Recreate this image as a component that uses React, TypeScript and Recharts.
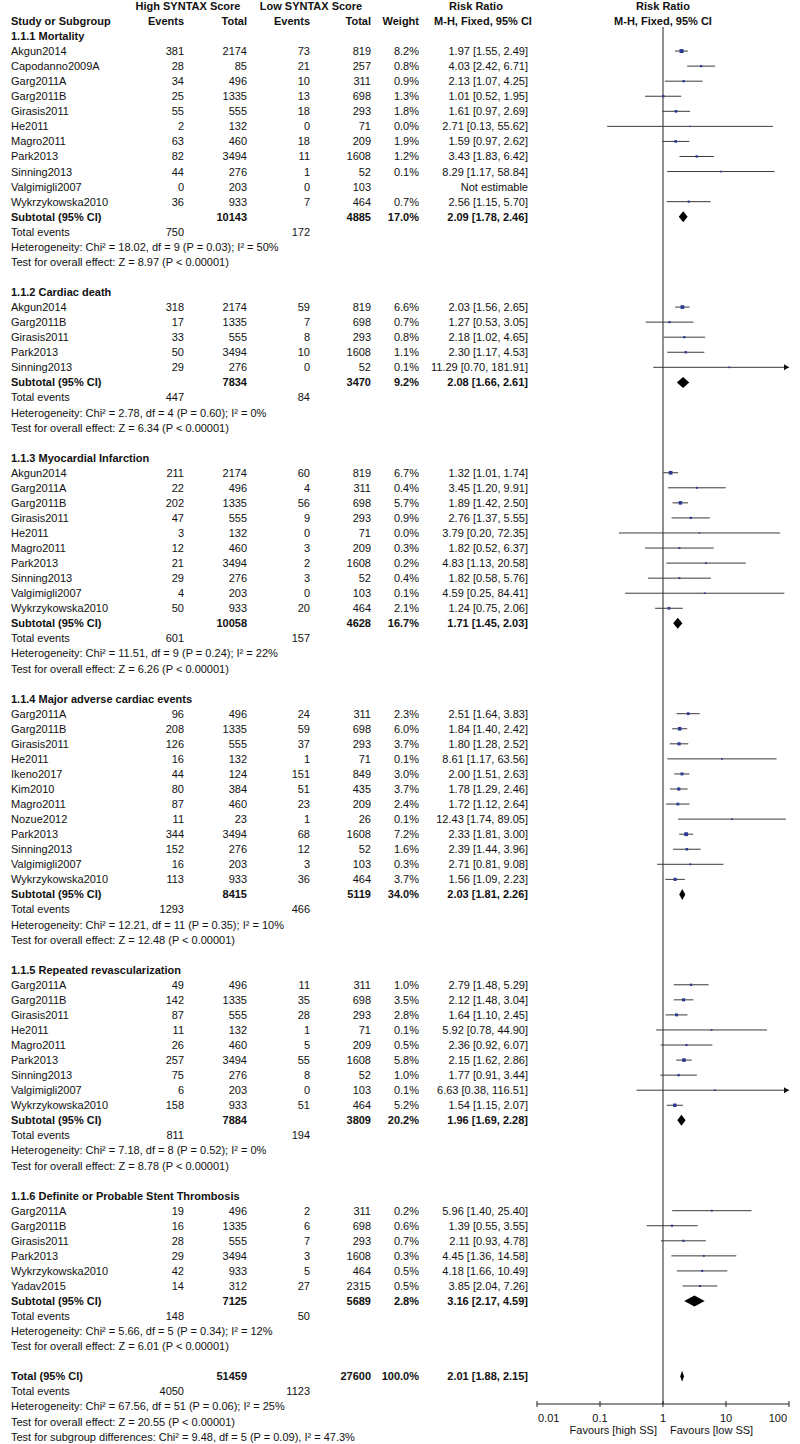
import { ScatterChart, Scatter, XAxis, YAxis, ReferenceLine } from 'recharts'

// one row per study: events / totals in each arm, weight (%), risk ratio with 95% CI
type Study = {
  study: string
  hiEv: number
  hiTot: number
  loEv: number
  loTot: number
  weight: number | null
  rr: number | null
  lo: number | null
  hi: number | null
}

type Subtotal = {
  hiEv: number
  hiTot: number
  loEv: number
  loTot: number
  weight: number
  rr: number
  lo: number
  hi: number
}

const mortality: Study[] = [
  { study: 'Akgun2014', hiEv: 381, hiTot: 2174, loEv: 73, loTot: 819, weight: 8.2, rr: 1.97, lo: 1.55, hi: 2.49 },
  { study: 'Capodanno2009A', hiEv: 28, hiTot: 85, loEv: 21, loTot: 257, weight: 0.8, rr: 4.03, lo: 2.42, hi: 6.71 },
  { study: 'Garg2011A', hiEv: 34, hiTot: 496, loEv: 10, loTot: 311, weight: 0.9, rr: 2.13, lo: 1.07, hi: 4.25 },
  { study: 'Garg2011B', hiEv: 25, hiTot: 1335, loEv: 13, loTot: 698, weight: 1.3, rr: 1.01, lo: 0.52, hi: 1.95 },
  { study: 'Girasis2011', hiEv: 55, hiTot: 555, loEv: 18, loTot: 293, weight: 1.8, rr: 1.61, lo: 0.97, hi: 2.69 },
  { study: 'He2011', hiEv: 2, hiTot: 132, loEv: 0, loTot: 71, weight: 0.0, rr: 2.71, lo: 0.13, hi: 55.62 },
  { study: 'Magro2011', hiEv: 63, hiTot: 460, loEv: 18, loTot: 209, weight: 1.9, rr: 1.59, lo: 0.97, hi: 2.62 },
  { study: 'Park2013', hiEv: 82, hiTot: 3494, loEv: 11, loTot: 1608, weight: 1.2, rr: 3.43, lo: 1.83, hi: 6.42 },
  { study: 'Sinning2013', hiEv: 44, hiTot: 276, loEv: 1, loTot: 52, weight: 0.1, rr: 8.29, lo: 1.17, hi: 58.84 },
  { study: 'Valgimigli2007', hiEv: 0, hiTot: 203, loEv: 0, loTot: 103, weight: null, rr: null, lo: null, hi: null },
  { study: 'Wykrzykowska2010', hiEv: 36, hiTot: 933, loEv: 7, loTot: 464, weight: 0.7, rr: 2.56, lo: 1.15, hi: 5.7 },
]

const cardiacDeath: Study[] = [
  { study: 'Akgun2014', hiEv: 318, hiTot: 2174, loEv: 59, loTot: 819, weight: 6.6, rr: 2.03, lo: 1.56, hi: 2.65 },
  { study: 'Garg2011B', hiEv: 17, hiTot: 1335, loEv: 7, loTot: 698, weight: 0.7, rr: 1.27, lo: 0.53, hi: 3.05 },
  { study: 'Girasis2011', hiEv: 33, hiTot: 555, loEv: 8, loTot: 293, weight: 0.8, rr: 2.18, lo: 1.02, hi: 4.65 },
  { study: 'Park2013', hiEv: 50, hiTot: 3494, loEv: 10, loTot: 1608, weight: 1.1, rr: 2.3, lo: 1.17, hi: 4.53 },
  { study: 'Sinning2013', hiEv: 29, hiTot: 276, loEv: 0, loTot: 52, weight: 0.1, rr: 11.29, lo: 0.7, hi: 181.91 },
]

const infarction: Study[] = [
  { study: 'Akgun2014', hiEv: 211, hiTot: 2174, loEv: 60, loTot: 819, weight: 6.7, rr: 1.32, lo: 1.01, hi: 1.74 },
  { study: 'Garg2011A', hiEv: 22, hiTot: 496, loEv: 4, loTot: 311, weight: 0.4, rr: 3.45, lo: 1.2, hi: 9.91 },
  { study: 'Garg2011B', hiEv: 202, hiTot: 1335, loEv: 56, loTot: 698, weight: 5.7, rr: 1.89, lo: 1.42, hi: 2.5 },
  { study: 'Girasis2011', hiEv: 47, hiTot: 555, loEv: 9, loTot: 293, weight: 0.9, rr: 2.76, lo: 1.37, hi: 5.55 },
  { study: 'He2011', hiEv: 3, hiTot: 132, loEv: 0, loTot: 71, weight: 0.0, rr: 3.79, lo: 0.2, hi: 72.35 },
  { study: 'Magro2011', hiEv: 12, hiTot: 460, loEv: 3, loTot: 209, weight: 0.3, rr: 1.82, lo: 0.52, hi: 6.37 },
  { study: 'Park2013', hiEv: 21, hiTot: 3494, loEv: 2, loTot: 1608, weight: 0.2, rr: 4.83, lo: 1.13, hi: 20.58 },
  { study: 'Sinning2013', hiEv: 29, hiTot: 276, loEv: 3, loTot: 52, weight: 0.4, rr: 1.82, lo: 0.58, hi: 5.76 },
  { study: 'Valgimigli2007', hiEv: 4, hiTot: 203, loEv: 0, loTot: 103, weight: 0.1, rr: 4.59, lo: 0.25, hi: 84.41 },
  { study: 'Wykrzykowska2010', hiEv: 50, hiTot: 933, loEv: 20, loTot: 464, weight: 2.1, rr: 1.24, lo: 0.75, hi: 2.06 },
]

const mace: Study[] = [
  { study: 'Garg2011A', hiEv: 96, hiTot: 496, loEv: 24, loTot: 311, weight: 2.3, rr: 2.51, lo: 1.64, hi: 3.83 },
  { study: 'Garg2011B', hiEv: 208, hiTot: 1335, loEv: 59, loTot: 698, weight: 6.0, rr: 1.84, lo: 1.4, hi: 2.42 },
  { study: 'Girasis2011', hiEv: 126, hiTot: 555, loEv: 37, loTot: 293, weight: 3.7, rr: 1.8, lo: 1.28, hi: 2.52 },
  { study: 'He2011', hiEv: 16, hiTot: 132, loEv: 1, loTot: 71, weight: 0.1, rr: 8.61, lo: 1.17, hi: 63.56 },
  { study: 'Ikeno2017', hiEv: 44, hiTot: 124, loEv: 151, loTot: 849, weight: 3.0, rr: 2.0, lo: 1.51, hi: 2.63 },
  { study: 'Kim2010', hiEv: 80, hiTot: 384, loEv: 51, loTot: 435, weight: 3.7, rr: 1.78, lo: 1.29, hi: 2.46 },
  { study: 'Magro2011', hiEv: 87, hiTot: 460, loEv: 23, loTot: 209, weight: 2.4, rr: 1.72, lo: 1.12, hi: 2.64 },
  { study: 'Nozue2012', hiEv: 11, hiTot: 23, loEv: 1, loTot: 26, weight: 0.1, rr: 12.43, lo: 1.74, hi: 89.05 },
  { study: 'Park2013', hiEv: 344, hiTot: 3494, loEv: 68, loTot: 1608, weight: 7.2, rr: 2.33, lo: 1.81, hi: 3.0 },
  { study: 'Sinning2013', hiEv: 152, hiTot: 276, loEv: 12, loTot: 52, weight: 1.6, rr: 2.39, lo: 1.44, hi: 3.96 },
  { study: 'Valgimigli2007', hiEv: 16, hiTot: 203, loEv: 3, loTot: 103, weight: 0.3, rr: 2.71, lo: 0.81, hi: 9.08 },
  { study: 'Wykrzykowska2010', hiEv: 113, hiTot: 933, loEv: 36, loTot: 464, weight: 3.7, rr: 1.56, lo: 1.09, hi: 2.23 },
]

const revasc: Study[] = [
  { study: 'Garg2011A', hiEv: 49, hiTot: 496, loEv: 11, loTot: 311, weight: 1.0, rr: 2.79, lo: 1.48, hi: 5.29 },
  { study: 'Garg2011B', hiEv: 142, hiTot: 1335, loEv: 35, loTot: 698, weight: 3.5, rr: 2.12, lo: 1.48, hi: 3.04 },
  { study: 'Girasis2011', hiEv: 87, hiTot: 555, loEv: 28, loTot: 293, weight: 2.8, rr: 1.64, lo: 1.1, hi: 2.45 },
  { study: 'He2011', hiEv: 11, hiTot: 132, loEv: 1, loTot: 71, weight: 0.1, rr: 5.92, lo: 0.78, hi: 44.9 },
  { study: 'Magro2011', hiEv: 26, hiTot: 460, loEv: 5, loTot: 209, weight: 0.5, rr: 2.36, lo: 0.92, hi: 6.07 },
  { study: 'Park2013', hiEv: 257, hiTot: 3494, loEv: 55, loTot: 1608, weight: 5.8, rr: 2.15, lo: 1.62, hi: 2.86 },
  { study: 'Sinning2013', hiEv: 75, hiTot: 276, loEv: 8, loTot: 52, weight: 1.0, rr: 1.77, lo: 0.91, hi: 3.44 },
  { study: 'Valgimigli2007', hiEv: 6, hiTot: 203, loEv: 0, loTot: 103, weight: 0.1, rr: 6.63, lo: 0.38, hi: 116.51 },
  { study: 'Wykrzykowska2010', hiEv: 158, hiTot: 933, loEv: 51, loTot: 464, weight: 5.2, rr: 1.54, lo: 1.15, hi: 2.07 },
]

const thrombosis: Study[] = [
  { study: 'Garg2011A', hiEv: 19, hiTot: 496, loEv: 2, loTot: 311, weight: 0.2, rr: 5.96, lo: 1.4, hi: 25.4 },
  { study: 'Garg2011B', hiEv: 16, hiTot: 1335, loEv: 6, loTot: 698, weight: 0.6, rr: 1.39, lo: 0.55, hi: 3.55 },
  { study: 'Girasis2011', hiEv: 28, hiTot: 555, loEv: 7, loTot: 293, weight: 0.7, rr: 2.11, lo: 0.93, hi: 4.78 },
  { study: 'Park2013', hiEv: 29, hiTot: 3494, loEv: 3, loTot: 1608, weight: 0.3, rr: 4.45, lo: 1.36, hi: 14.58 },
  { study: 'Wykrzykowska2010', hiEv: 42, hiTot: 933, loEv: 5, loTot: 464, weight: 0.5, rr: 4.18, lo: 1.66, hi: 10.49 },
  { study: 'Yadav2015', hiEv: 14, hiTot: 312, loEv: 27, loTot: 2315, weight: 0.5, rr: 3.85, lo: 2.04, hi: 7.26 },
]

const groupTitles = [
  '1.1.1 Mortality',
  '1.1.2 Cardiac death',
  '1.1.3 Myocardial Infarction',
  '1.1.4 Major adverse cardiac events',
  '1.1.5 Repeated revascularization',
  '1.1.6 Definite or Probable Stent Thrombosis',
]
const groupStudies = [mortality, cardiacDeath, infarction, mace, revasc, thrombosis]

const subtotals: Subtotal[] = [
  { hiEv: 750, hiTot: 10143, loEv: 172, loTot: 4885, weight: 17.0, rr: 2.09, lo: 1.78, hi: 2.46 },
  { hiEv: 447, hiTot: 7834, loEv: 84, loTot: 3470, weight: 9.2, rr: 2.08, lo: 1.66, hi: 2.61 },
  { hiEv: 601, hiTot: 10058, loEv: 157, loTot: 4628, weight: 16.7, rr: 1.71, lo: 1.45, hi: 2.03 },
  { hiEv: 1293, hiTot: 8415, loEv: 466, loTot: 5119, weight: 34.0, rr: 2.03, lo: 1.81, hi: 2.26 },
  { hiEv: 811, hiTot: 7884, loEv: 194, loTot: 3809, weight: 20.2, rr: 1.96, lo: 1.69, hi: 2.28 },
  { hiEv: 148, hiTot: 7125, loEv: 50, loTot: 5689, weight: 2.8, rr: 3.16, lo: 2.17, hi: 4.59 },
]

const heterogeneity = [
  'Heterogeneity: Chi² = 18.02, df = 9 (P = 0.03); I² = 50%',
  'Heterogeneity: Chi² = 2.78, df = 4 (P = 0.60); I² = 0%',
  'Heterogeneity: Chi² = 11.51, df = 9 (P = 0.24); I² = 22%',
  'Heterogeneity: Chi² = 12.21, df = 11 (P = 0.35); I² = 10%',
  'Heterogeneity: Chi² = 7.18, df = 8 (P = 0.52); I² = 0%',
  'Heterogeneity: Chi² = 5.66, df = 5 (P = 0.34); I² = 12%',
]
const overallEffect = [
  'Test for overall effect: Z = 8.97 (P < 0.00001)',
  'Test for overall effect: Z = 6.34 (P < 0.00001)',
  'Test for overall effect: Z = 6.26 (P < 0.00001)',
  'Test for overall effect: Z = 12.48 (P < 0.00001)',
  'Test for overall effect: Z = 8.78 (P < 0.00001)',
  'Test for overall effect: Z = 6.01 (P < 0.00001)',
]

const total: Subtotal = { hiEv: 4050, hiTot: 51459, loEv: 1123, loTot: 27600, weight: 100.0, rr: 2.01, lo: 1.88, hi: 2.15 }
const totalNotes = [
  'Heterogeneity: Chi² = 67.56, df = 51 (P = 0.06); I² = 25%',
  'Test for overall effect: Z = 20.55 (P < 0.00001)',
  'Test for subgroup differences: Chi² = 9.48, df = 5 (P = 0.09), I² = 47.3%',
]

const axisTicks = [0.01, 0.1, 1, 10, 100]

// layout
const W = 800
const H = 1444
const ROW_H = 15.06
const FIRST_Y = 36
const PLOT_TOP = 27
const PLOT_BOTTOM = 1404
const X_LEFT = 537
const X_RIGHT = 789
const rowY = (line: number) => FIRST_Y + (line - 1) * ROW_H
const Y_MIN = 1 + (PLOT_TOP - FIRST_Y) / ROW_H
const Y_MAX = 1 + (PLOT_BOTTOM - FIRST_Y) / ROW_H

const COL = { name: 11, hiEv: 184, hiTot: 247, loEv: 310, loTot: 371, weight: 419, ci: 528 }
const FONT = "'Liberation Sans', Arial, Helvetica, sans-serif"
const TEXT = '#111'
const BOX = '#2b3991'
const CI_LINE = '#3a3a3a'

type Txt = { x: number; line: number; text: string; anchor?: 'start' | 'middle' | 'end'; bold?: boolean }
type Mark = { line: number; rr: number; lo: number; hi: number; weight: number }
type Diamond = { line: number; lo: number; hi: number }

const fmt = (v: number) => v.toFixed(2)
const ciText = (rr: number, lo: number, hi: number) => `${fmt(rr)} [${fmt(lo)}, ${fmt(hi)}]`

const texts: Txt[] = []
const marks: Mark[] = []
const diamonds: Diamond[] = []

let line = 1
groupStudies.forEach((studies, g) => {
  texts.push({ x: COL.name, line, text: groupTitles[g], bold: true })
  line++
  studies.forEach((s) => {
    texts.push({ x: COL.name, line, text: s.study })
    texts.push({ x: COL.hiEv, line, text: String(s.hiEv), anchor: 'end' })
    texts.push({ x: COL.hiTot, line, text: String(s.hiTot), anchor: 'end' })
    texts.push({ x: COL.loEv, line, text: String(s.loEv), anchor: 'end' })
    texts.push({ x: COL.loTot, line, text: String(s.loTot), anchor: 'end' })
    if (s.rr != null && s.lo != null && s.hi != null) {
      texts.push({ x: COL.weight, line, text: `${(s.weight ?? 0).toFixed(1)}%`, anchor: 'end' })
      texts.push({ x: COL.ci, line, text: ciText(s.rr, s.lo, s.hi), anchor: 'end' })
      marks.push({ line, rr: s.rr, lo: s.lo, hi: s.hi, weight: s.weight ?? 0 })
    } else {
      texts.push({ x: COL.ci, line, text: 'Not estimable', anchor: 'end' })
    }
    line++
  })
  const sub = subtotals[g]
  texts.push({ x: COL.name, line, text: 'Subtotal (95% CI)', bold: true })
  texts.push({ x: COL.hiTot, line, text: String(sub.hiTot), anchor: 'end', bold: true })
  texts.push({ x: COL.loTot, line, text: String(sub.loTot), anchor: 'end', bold: true })
  texts.push({ x: COL.weight, line, text: `${sub.weight.toFixed(1)}%`, anchor: 'end', bold: true })
  texts.push({ x: COL.ci, line, text: ciText(sub.rr, sub.lo, sub.hi), anchor: 'end', bold: true })
  diamonds.push({ line, lo: sub.lo, hi: sub.hi })
  line++
  texts.push({ x: COL.name, line, text: 'Total events' })
  texts.push({ x: COL.hiEv, line, text: String(sub.hiEv), anchor: 'end' })
  texts.push({ x: COL.loEv, line, text: String(sub.loEv), anchor: 'end' })
  line++
  texts.push({ x: COL.name, line, text: heterogeneity[g] })
  line++
  texts.push({ x: COL.name, line, text: overallEffect[g] })
  line += 2
})

texts.push({ x: COL.name, line, text: 'Total (95% CI)', bold: true })
texts.push({ x: COL.hiTot, line, text: String(total.hiTot), anchor: 'end', bold: true })
texts.push({ x: COL.loTot, line, text: String(total.loTot), anchor: 'end', bold: true })
texts.push({ x: COL.weight, line, text: `${total.weight.toFixed(1)}%`, anchor: 'end', bold: true })
texts.push({ x: COL.ci, line, text: ciText(total.rr, total.lo, total.hi), anchor: 'end', bold: true })
diamonds.push({ line, lo: total.lo, hi: total.hi })
line++
texts.push({ x: COL.name, line, text: 'Total events' })
texts.push({ x: COL.hiEv, line, text: String(total.hiEv), anchor: 'end' })
texts.push({ x: COL.loEv, line, text: String(total.loEv), anchor: 'end' })
line++
totalNotes.forEach((n) => {
  texts.push({ x: COL.name, line, text: n })
  line++
})

// header rows (lines -1 and 0)
const headers: Txt[] = [
  { x: 188, line: -1, text: 'High SYNTAX Score', anchor: 'middle', bold: true },
  { x: 311, line: -1, text: 'Low SYNTAX Score', anchor: 'middle', bold: true },
  { x: 476, line: -1, text: 'Risk Ratio', anchor: 'middle', bold: true },
  { x: 663, line: -1, text: 'Risk Ratio', anchor: 'middle', bold: true },
  { x: COL.name, line: 0, text: 'Study or Subgroup', bold: true },
  { x: COL.hiEv, line: 0, text: 'Events', anchor: 'end', bold: true },
  { x: COL.hiTot, line: 0, text: 'Total', anchor: 'end', bold: true },
  { x: COL.loEv, line: 0, text: 'Events', anchor: 'end', bold: true },
  { x: COL.loTot, line: 0, text: 'Total', anchor: 'end', bold: true },
  { x: COL.weight, line: 0, text: 'Weight', anchor: 'end', bold: true },
  { x: 483, line: 0, text: 'M-H, Fixed, 95% CI', anchor: 'middle', bold: true },
  { x: 663, line: 0, text: 'M-H, Fixed, 95% CI', anchor: 'middle', bold: true },
]

const boxSize = (w: number) => 1.4 + Math.sqrt(w) * 0.9

function AxisTick(props: any) {
  const { x, payload } = props
  const v = payload.value
  const anchor = v === axisTicks[0] ? 'start' : v === axisTicks[axisTicks.length - 1] ? 'end' : 'middle'
  const tx = anchor === 'start' ? x + 1 : anchor === 'end' ? x - 2 : x
  return (
    <g>
      <line x1={x} x2={x} y1={PLOT_BOTTOM - 3} y2={PLOT_BOTTOM + 3} stroke="#222" />
      <text x={tx} y={PLOT_BOTTOM + 14} textAnchor={anchor} dominantBaseline="central" fontSize={11} fontFamily={FONT} fill={TEXT}>
        {String(v)}
      </text>
    </g>
  )
}

const ciShape = (arrow: boolean) => (p: any) => (
  <g>
    <line x1={p.x1} y1={p.y1} x2={p.x2} y2={p.y2} stroke={CI_LINE} strokeWidth={1} />
    {arrow && <polygon points={`${p.x2},${p.y2} ${p.x2 - 5},${p.y2 - 3} ${p.x2 - 5},${p.y2 + 3}`} fill="#111" />}
  </g>
)

const diamondShape = (p: any) => {
  const cx = (p.x1 + p.x2) / 2
  const h = 5.5
  return <polygon points={`${p.x1},${p.y1} ${cx},${p.y1 - h} ${p.x2},${p.y1} ${cx},${p.y1 + h}`} fill="#000" />
}

const squareShape = (p: any) => {
  const s = boxSize(p.payload.weight)
  return <rect x={p.cx - s / 2} y={p.cy - s / 2} width={s} height={s} fill={BOX} />
}

export default function App() {
  const xMax = axisTicks[axisTicks.length - 1]
  const xMin = axisTicks[0]
  return (
    <div style={{ position: 'absolute', left: 0, top: 0, width: W, height: H, background: '#fff' }}>
      <ScatterChart width={W} height={H} margin={{ top: PLOT_TOP, right: W - X_RIGHT, bottom: 0, left: X_LEFT }}>
        <XAxis
          type="number"
          dataKey="rr"
          scale="log"
          domain={[xMin, xMax]}
          ticks={axisTicks}
          interval={0}
          allowDataOverflow
          height={H - PLOT_BOTTOM}
          tickLine={false}
          axisLine={{ stroke: '#222' }}
          tick={<AxisTick />}
        />
        <YAxis type="number" dataKey="line" domain={[Y_MIN, Y_MAX]} reversed hide allowDataOverflow />
        <ReferenceLine x={1} stroke="#222" strokeWidth={1} />
        {marks.map((m, i) => (
          <ReferenceLine
            key={'ci' + i}
            segment={[
              { x: Math.max(m.lo, xMin), y: m.line },
              { x: Math.min(m.hi, xMax), y: m.line },
            ]}
            ifOverflow="visible"
            shape={ciShape(m.hi > xMax)}
          />
        ))}
        {diamonds.map((d, i) => (
          <ReferenceLine
            key={'dm' + i}
            segment={[
              { x: d.lo, y: d.line },
              { x: d.hi, y: d.line },
            ]}
            ifOverflow="visible"
            shape={diamondShape}
          />
        ))}
        <Scatter data={marks} isAnimationActive={false} shape={squareShape} />
      </ScatterChart>
      <svg
        width={W}
        height={H}
        style={{ position: 'absolute', left: 0, top: 0, pointerEvents: 'none' }}
        fontFamily={FONT}
        fontSize={11}
      >
        {[...headers, ...texts].map((t, i) => (
          <text
            key={i}
            x={t.x}
            y={rowY(t.line)}
            textAnchor={t.anchor ?? 'start'}
            dominantBaseline="central"
            fontWeight={t.bold ? 'bold' : 'normal'}
            fill={TEXT}
          >
            {t.text}
          </text>
        ))}
        <text x={657} y={1430} textAnchor="end" dominantBaseline="central" fill={TEXT}>
          Favours [high SS]
        </text>
        <text x={670} y={1430} textAnchor="start" dominantBaseline="central" fill={TEXT}>
          Favours [low SS]
        </text>
      </svg>
    </div>
  )
}
